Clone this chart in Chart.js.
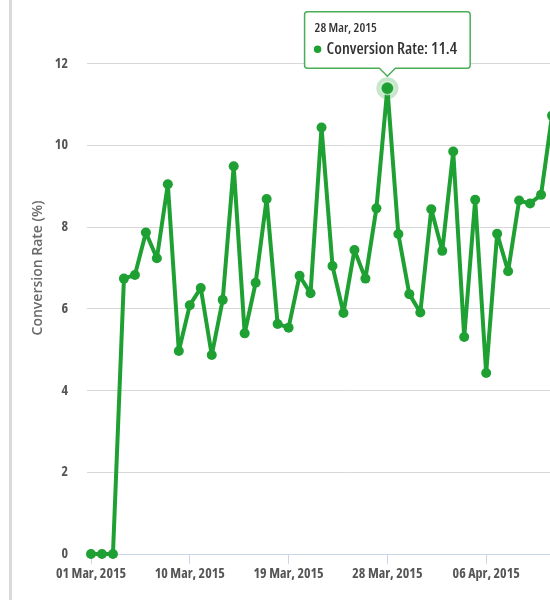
<!DOCTYPE html>
<html lang="en">
<head>
    <meta charset="UTF-8">
    <title>Conversion Rate</title>
    <script src="https://cdn.jsdelivr.net/npm/chart.js"></script>
    <style>
        html, body { margin: 0; padding: 0; overflow: hidden; background: #fff; width: 550px; height: 600px; }
        #edge { position: absolute; left: 9px; top: 0; width: 3px; height: 600px; background: #dadada; }
        #wrap { position: absolute; left: 0; top: -39px; width: 620px; height: 640px; }
    </style>
</head>
<body>
    <div id="edge"></div>
    <div id="wrap"><canvas id="rateChart"></canvas></div>

    <script>
        // one entry per day, 01 Mar 2015 .. 12 Apr 2015
        const days = [
            '01 Mar, 2015', '02 Mar, 2015', '03 Mar, 2015', '04 Mar, 2015', '05 Mar, 2015',
            '06 Mar, 2015', '07 Mar, 2015', '08 Mar, 2015', '09 Mar, 2015', '10 Mar, 2015',
            '11 Mar, 2015', '12 Mar, 2015', '13 Mar, 2015', '14 Mar, 2015', '15 Mar, 2015',
            '16 Mar, 2015', '17 Mar, 2015', '18 Mar, 2015', '19 Mar, 2015', '20 Mar, 2015',
            '21 Mar, 2015', '22 Mar, 2015', '23 Mar, 2015', '24 Mar, 2015', '25 Mar, 2015',
            '26 Mar, 2015', '27 Mar, 2015', '28 Mar, 2015', '29 Mar, 2015', '30 Mar, 2015',
            '31 Mar, 2015', '01 Apr, 2015', '02 Apr, 2015', '03 Apr, 2015', '04 Apr, 2015',
            '05 Apr, 2015', '06 Apr, 2015', '07 Apr, 2015', '08 Apr, 2015', '09 Apr, 2015',
            '10 Apr, 2015', '11 Apr, 2015', '12 Apr, 2015'
        ];
        const conversionRate = [
            0, 0, 0, 6.74, 6.83, 7.87, 7.24, 9.05, 4.97, 6.09,
            6.51, 4.87, 6.22, 9.49, 5.4, 6.64, 8.69, 5.63, 5.54, 6.81,
            6.38, 10.44, 7.05, 5.9, 7.44, 6.74, 8.46, 11.4, 7.83, 6.36,
            5.91, 8.44, 7.42, 9.85, 5.31, 8.67, 4.43, 7.84, 6.92, 8.65,
            8.58, 8.79, 10.73
        ];
        // day indexes that carry an x axis label
        const xTickDays = [0, 9, 18, 27, 36];
        const yTicks = [0, 2, 4, 6, 8, 10, 12, 14];

        const green = '#1fa033';
        const font = "'Open Sans', sans-serif";
        const peakIndex = conversionRate.indexOf(Math.max(...conversionRate));

        // soft ring behind the hovered point
        const haloPlugin = {
            id: 'halo',
            beforeDatasetsDraw(chart) {
                const pt = chart.getDatasetMeta(0).data[peakIndex];
                const c = chart.ctx;
                c.save();
                c.beginPath();
                c.arc(pt.x, pt.y, 11, 0, Math.PI * 2);
                c.fillStyle = 'rgba(31,160,51,0.25)';
                c.fill();
                c.restore();
            }
        };

        const chart = new Chart(document.getElementById('rateChart'), {
            type: 'line',
            data: {
                datasets: [{
                    label: 'Conversion Rate',
                    data: conversionRate.map((v, i) => ({ x: i, y: v })),
                    borderColor: green,
                    backgroundColor: green,
                    borderWidth: 4,
                    borderJoinStyle: 'round',
                    borderCapStyle: 'round',
                    pointRadius: 5,
                    pointBackgroundColor: green,
                    pointBorderWidth: 0,
                    pointHoverRadius: 6.5,
                    pointHoverBackgroundColor: green,
                    pointHoverBorderColor: 'rgba(255,255,255,0.6)',
                    pointHoverBorderWidth: 1.5,
                    tension: 0,
                    clip: false
                }]
            },
            options: {
                responsive: true,
                maintainAspectRatio: false,
                animation: false,
                events: [],
                layout: { padding: { top: 21, left: 0, right: 0, bottom: 0 } },
                plugins: {
                    legend: { display: false },
                    tooltip: {
                        enabled: true,
                        backgroundColor: '#ffffff',
                        borderColor: '#4aae57',
                        borderWidth: 1.5,
                        cornerRadius: 3,
                        caretSize: 8,
                        caretPadding: 12,
                        xAlign: 'center',
                        yAlign: 'bottom',
                        padding: { top: 9, bottom: 9, left: 10, right: 13 },
                        titleColor: '#333',
                        bodyColor: '#333',
                        titleFont: { family: font, size: 13, weight: '600 condensed' },
                        bodyFont: { family: font, size: 16.5, weight: '600 condensed' },
                        titleMarginBottom: 3,
                        displayColors: true,
                        usePointStyle: true,
                        boxWidth: 6,
                        boxHeight: 6,
                        boxPadding: 4,
                        callbacks: {
                            title: items => days[items[0].dataIndex],
                            label: item => item.dataset.label + ': ' + item.parsed.y,
                            labelColor: () => ({ borderColor: green, backgroundColor: green }),
                            labelPointStyle: () => ({ pointStyle: 'circle', rotation: 0 })
                        }
                    }
                },
                scales: {
                    x: {
                        type: 'linear',
                        min: -0.3646,
                        max: 47.6,
                        afterBuildTicks: scale => { scale.ticks = xTickDays.map(v => ({ value: v })); },
                        afterFit: scale => { scale.height = 47; },
                        grid: {
                            drawOnChartArea: false,
                            drawTicks: true,
                            tickLength: 10,
                            color: '#ccd6eb'
                        },
                        border: { display: true, color: '#ccd6eb', width: 1 },
                        ticks: {
                            autoSkip: false,
                            maxRotation: 0,
                            padding: 2,
                            color: '#555',
                            font: { family: font, size: 14, weight: 'bold condensed' },
                            callback: value => days[value]
                        }
                    },
                    y: {
                        min: 0,
                        max: 14,
                        afterBuildTicks: scale => { scale.ticks = yTicks.map(v => ({ value: v })); },
                        afterFit: scale => { scale.width = 87; },
                        grid: {
                            color: '#d8d8d8',
                            lineWidth: 1,
                            drawTicks: true,
                            tickLength: 17,
                            tickColor: 'rgba(0,0,0,0)'
                        },
                        border: { display: false },
                        ticks: {
                            padding: 2,
                            color: '#555',
                            font: { family: font, size: 14, weight: 'bold condensed' }
                        },
                        title: {
                            display: true,
                            text: 'Conversion Rate (%)',
                            color: '#6a6a6a',
                            padding: { top: 30, bottom: 0 },
                            font: { family: font, size: 14, weight: '600' }
                        }
                    }
                }
            },
            plugins: [haloPlugin]
        });

        // show the hover state on the 28 Mar peak
        const active = [{ datasetIndex: 0, index: peakIndex }];
        chart.setActiveElements(active);
        chart.tooltip.setActiveElements(active, { x: 0, y: 0 });
        chart.update();
    </script>
</body>
</html>
